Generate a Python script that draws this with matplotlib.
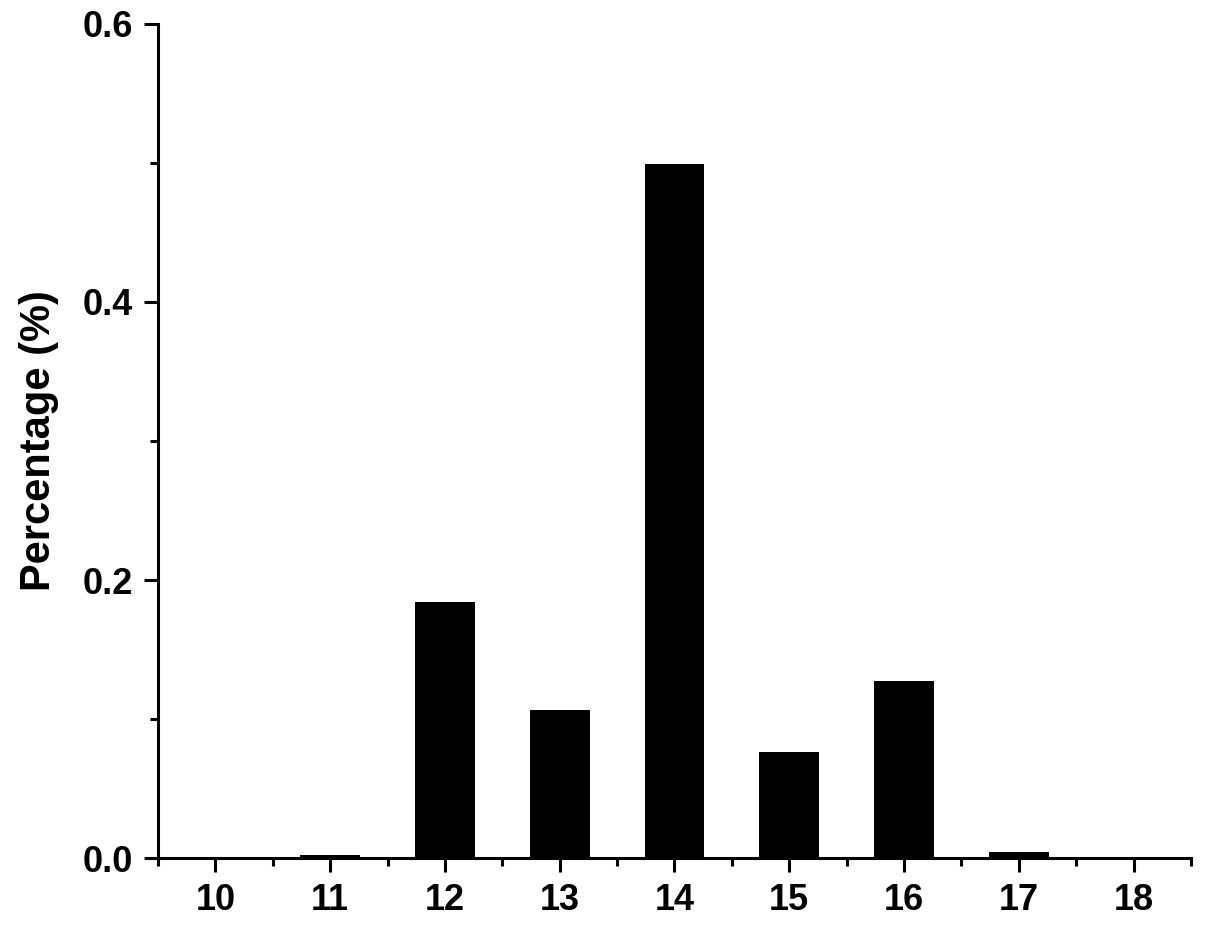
import numpy as np
import matplotlib
matplotlib.use('Agg')
import matplotlib.pyplot as plt
from matplotlib.ticker import MultipleLocator, FormatStrFormatter

# data
categories = [10, 11, 12, 13, 14, 15, 16, 17, 18]
percentage = [0.0005, 0.002, 0.184, 0.1065, 0.499, 0.076, 0.127, 0.004, 0.001]

plt.rcParams['font.family'] = ['Liberation Sans', 'DejaVu Sans']
plt.rcParams['font.weight'] = 'bold'

fig = plt.figure(figsize=(12.07, 9.40), dpi=100)
ax = fig.add_axes([0.1309, 0.0872, 0.8558, 0.8873])

ax.bar(categories, percentage, width=0.52, color='black', edgecolor='black', linewidth=0)

ax.set_xlim(9.5, 18.5)
ax.set_ylim(0, 0.6)
ax.xaxis.set_major_locator(MultipleLocator(1))
ax.xaxis.set_minor_locator(MultipleLocator(0.5))
ax.yaxis.set_major_locator(MultipleLocator(0.2))
ax.yaxis.set_minor_locator(MultipleLocator(0.1))
ax.yaxis.set_major_formatter(FormatStrFormatter('%.1f'))

for side in ['top', 'right']:
    ax.spines[side].set_visible(False)
for side in ['left', 'bottom']:
    ax.spines[side].set_linewidth(2.2)

ax.tick_params(axis='both', which='major', direction='out', length=10, width=2.2, labelsize=26, pad=8)
ax.tick_params(axis='both', which='minor', direction='out', length=5.5, width=2.2)

ax.set_ylabel('Percentage (%)', fontsize=30, fontweight='bold', labelpad=17)

plt.savefig('out.png', dpi=100)
plt.close()
